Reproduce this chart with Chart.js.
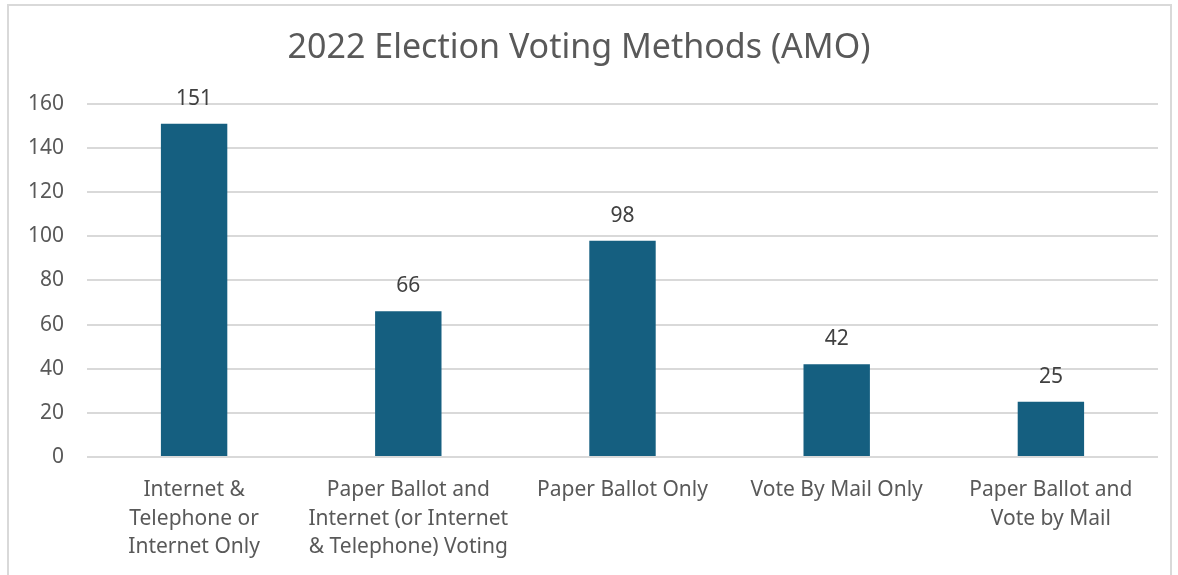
<!DOCTYPE html>
<html>
<head>
<meta charset="utf-8">
<script src="https://cdn.jsdelivr.net/npm/chart.js@4.4.0/dist/chart.umd.min.js"></script>
<style>
  html, body { margin: 0; padding: 0; background: #fff; }
  #wrap { position: relative; width: 1178px; height: 575px; overflow: hidden; }
  #grafica { position: absolute; left: 0; top: 0; }
  #marco { position: absolute; left: 7px; top: 4px; width: 1161px; height: 600px;
           border: 2px solid #d9d9d9; pointer-events: none; }
</style>
</head>
<body>
<div id="wrap">
  <canvas id="grafica" width="1178" height="575"></canvas>
  <div id="marco"></div>
</div>
<script>
// Datos del gráfico
const categorias = [
    ['Internet &', 'Telephone or', 'Internet Only'],
    ['Paper Ballot and', 'Internet (or Internet', '& Telephone) Voting'],
    ['Paper Ballot Only'],
    ['Vote By Mail Only'],
    ['Paper Ballot and', 'Vote by Mail']
];
const valores = [151, 66, 98, 42, 25];
const ticksY = [0, 20, 40, 60, 80, 100, 120, 140, 160];

const fuente = '"Noto Sans", "Open Sans", sans-serif';

// Plugin sencillo para poner el valor encima de cada barra
const etiquetasValor = {
    id: 'etiquetasValor',
    afterDatasetsDraw(chart) {
        const ctx = chart.ctx;
        const meta = chart.getDatasetMeta(0);
        ctx.save();
        ctx.font = '21px ' + fuente;
        ctx.fillStyle = '#404040';
        ctx.textAlign = 'center';
        ctx.textBaseline = 'middle';
        meta.data.forEach((barra, i) => {
            ctx.fillText(String(valores[i]), barra.x, barra.y - 25);
        });
        ctx.restore();
    }
};

const ctx = document.getElementById('grafica').getContext('2d');

const grafica = new Chart(ctx, {
    type: 'bar',
    data: {
        labels: categorias,
        datasets: [{
            data: valores,
            backgroundColor: '#155f80',
            borderWidth: 0,
            categoryPercentage: 1,
            barPercentage: 0.31
        }]
    },
    options: {
        responsive: false,
        animation: false,
        layout: { padding: { left: 0, right: 20, top: 0, bottom: 0 } },
        plugins: {
            legend: { display: false },
            tooltip: { enabled: false },
            title: {
                display: true,
                text: '2022 Election Voting Methods (AMO)',
                color: '#595959',
                font: { family: fuente, size: 34, weight: 'normal', lineHeight: 1.2 },
                padding: { top: 28, bottom: 35 }
            }
        },
        scales: {
            x: {
                grid: { display: false },
                border: { display: false },
                ticks: {
                    color: '#595959',
                    font: { family: fuente, size: 21, lineHeight: 1.35 },
                    maxRotation: 0,
                    autoSkip: false,
                    padding: 11
                },
                afterFit(scale) { scale.height = 118; }
            },
            y: {
                min: 0,
                max: 160,
                afterBuildTicks(scale) {
                    scale.ticks = ticksY.map(v => ({ value: v }));
                },
                grid: { color: '#d9d9d9', lineWidth: 2, drawTicks: false },
                border: { display: false },
                ticks: {
                    color: '#595959',
                    font: { family: fuente, size: 21 },
                    padding: 23
                },
                afterFit(scale) { scale.width = 87; }
            }
        }
    },
    plugins: [etiquetasValor]
});
</script>
</body>
</html>
